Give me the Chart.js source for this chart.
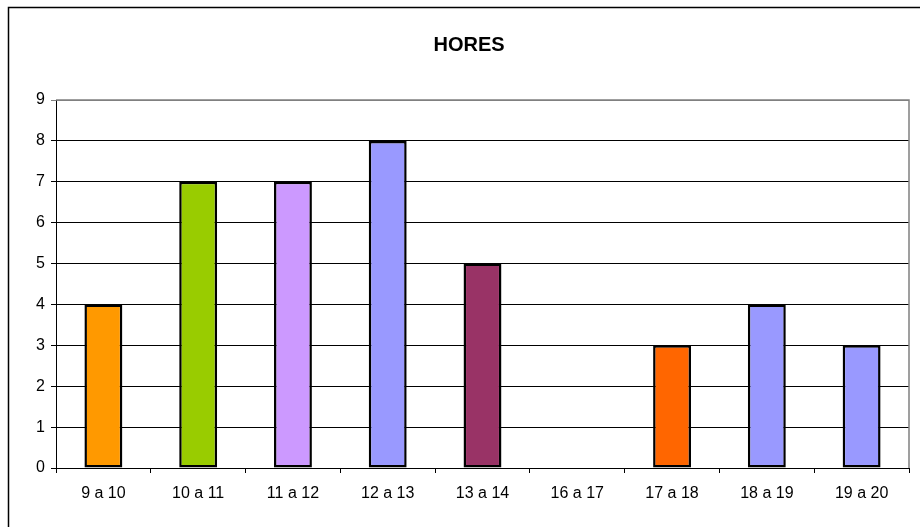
<!DOCTYPE html>
<html>
<head>
<meta charset="utf-8">
<script src="https://cdn.jsdelivr.net/npm/chart.js@4.4.1/dist/chart.umd.min.js"></script>
<style>
  body { margin: 0; background: #fff; }
  #wrap { width: 920px; height: 527px; }
</style>
</head>
<body>
<div id="wrap"><canvas id="myChart" width="920" height="527"></canvas></div>
<script>
var franges = ["9 a 10", "10 a 11", "11 a 12", "12 a 13", "13 a 14", "16 a 17", "17 a 18", "18 a 19", "19 a 20"];
var valors = [4, 7, 7, 8, 5, 0, 3, 4, 3];
var colors = ["#FF9900", "#99CC00", "#CC99FF", "#9999FF", "#993366", "#FFFFFF", "#FF6600", "#9999FF", "#9999FF"];
var titol = "HORES";

// outer frame + grey top/right edge of the plot area
var marcs = {
  id: "marcs",
  afterDraw: function(chart) {
    var c = chart.ctx;
    var a = chart.chartArea;
    c.save();
    c.strokeStyle = "#000";
    c.lineWidth = 1.5;
    c.strokeRect(8.5, 7.5, 1000, 1000);
    c.strokeStyle = "#808080";
    c.lineWidth = 1.5;
    c.beginPath();
    c.moveTo(a.left, a.top);
    c.lineTo(a.right, a.top);
    c.lineTo(a.right, a.bottom);
    c.stroke();
    c.restore();
  }
};

var ctx = document.getElementById("myChart").getContext("2d");
var myChart = new Chart(ctx, {
  type: "bar",
  data: {
    labels: franges,
    datasets: [{
      data: valors,
      backgroundColor: colors,
      borderColor: "#000",
      borderWidth: 2.5,
      borderSkipped: false,
      categoryPercentage: 0.4,
      barPercentage: 1
    }]
  },
  options: {
    responsive: false,
    animation: false,
    layout: { padding: { left: 29, right: 11, top: 0, bottom: 0 } },
    plugins: {
      legend: { display: false },
      tooltip: { enabled: false },
      title: {
        display: true,
        text: titol,
        color: "#000",
        font: { family: "'Liberation Sans', Arial", size: 20, weight: "bold" },
        padding: { top: 33, bottom: 43 }
      }
    },
    scales: {
      x: {
        offset: true,
        afterFit: function(s) { s.height = 59; },
        grid: { offset: true, drawOnChartArea: false, drawTicks: true, tickLength: 5, color: "#000" },
        border: { color: "#000", width: 1 },
        ticks: { color: "#000", padding: 11, font: { family: "'Liberation Sans', Arial", size: 16 } }
      },
      y: {
        min: 0,
        max: 9,
        afterFit: function(s) { s.width = 27; },
        grid: {
          color: function(c) { return c.tick && c.tick.value === 9 ? "#808080" : "#000"; },
          lineWidth: 1,
          tickLength: 5
        },
        border: { color: "#000", width: 1 },
        ticks: { stepSize: 1, color: "#000", padding: 6, font: { family: "'Liberation Sans', Arial", size: 16 } }
      }
    }
  },
  plugins: [marcs]
});
</script>
</body>
</html>
